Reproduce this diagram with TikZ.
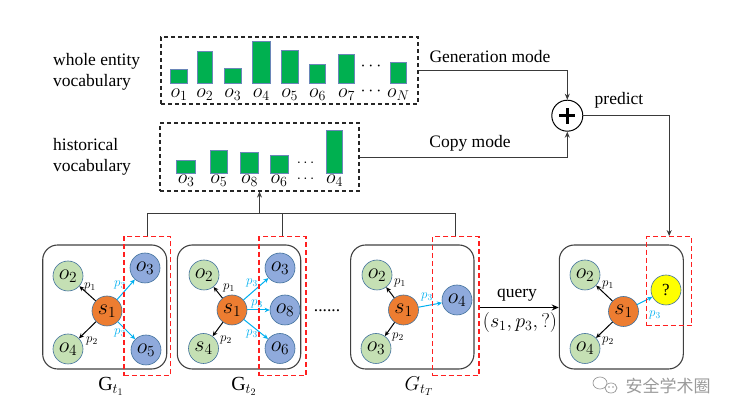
\RequirePackage{fix-cm}
\documentclass[tikz,border=0pt]{standalone}
\usepackage{fontspec}
\setmainfont{Liberation Serif}
\newfontfamily\cjkfont{Noto Sans CJK SC}
\usetikzlibrary{arrows.meta}

\definecolor{barfill}{HTML}{00B050}
\definecolor{baredge}{HTML}{6A86B8}
\definecolor{leaf}{HTML}{C5E0B4}
\definecolor{tailc}{HTML}{8FAADC}
\definecolor{subj}{HTML}{ED7D31}
\definecolor{unk}{HTML}{FFFF00}
\definecolor{ring}{HTML}{41719C}
\definecolor{rel}{HTML}{00B0F0}
\definecolor{framec}{HTML}{404040}
\definecolor{wire}{HTML}{3A3A3A}
\definecolor{redbox}{HTML}{FF2020}
\definecolor{wmark}{HTML}{9A9A9A}

\tikzset{
  txt/.style={font=\fontsize{17.5}{21}\selectfont, inner sep=0pt},
  mlbl/.style={font=\fontsize{20}{23}\selectfont, inner sep=0pt},
  dotrow/.style={font=\fontsize{18}{20}\selectfont, inner sep=0pt, text height=3pt, text depth=0pt},
  smalldots/.style={font=\fontsize{15}{16}\selectfont, inner sep=0pt, text height=3pt, text depth=0pt},
  elbl/.style={font=\fontsize{13}{15}\selectfont, inner sep=0pt},
  bar/.style={fill=barfill, draw=baredge, line width=0.8pt},
  vocab/.style={draw=black!85, dashed, dash pattern=on 4pt off 3pt, line width=1.2pt, inner sep=0pt},
  graphbox/.style={draw=framec, line width=1.1pt, rounded corners=15pt, inner sep=0pt},
  sel/.style={draw=redbox, dash pattern=on 5pt off 3pt, line width=1.2pt, inner sep=0pt},
  ent/.style={circle, minimum size=30pt, inner sep=0pt, draw=ring, line width=0.6pt, font=\fontsize{22}{24}\selectfont},
  obj/.style={ent, fill=leaf},
  hit/.style={ent, fill=tailc},
  head/.style={ent, fill=subj},
  ask/.style={ent, fill=unk, font=\fontsize{17}{20}\selectfont},
  blk/.style={-{Stealth[length=5pt,width=4.5pt]}, line width=1pt, black},
  cyn/.style={-{Stealth[length=5pt,width=4.5pt]}, line width=1pt, rel},
  wireline/.style={draw=wire, line width=0.9pt},
  wirearrow/.style={wireline, -{Stealth[length=6pt,width=5pt]}},
}

\begin{document}
\begin{tikzpicture}[x=1pt,y=-1pt]
\useasboundingbox (0,0) rectangle (737,419);

% ---------- vocabulary panels ----------
\node[txt, anchor=west, align=left] (wlab) at (53,72) {whole entity\\vocabulary};
\node[txt, anchor=west, align=left] (hlab) at (53,157) {historical\\vocabulary};

\node[vocab, minimum width=257pt, minimum height=67pt] (whole) at (289.5,70.5) {};
\node[vocab, minimum width=199pt, minimum height=68pt] (hist) at (259.5,157) {};

% bars of the whole entity vocabulary
\foreach \xa/\xb/\top/\name in {170.7/187.3/69.3/1, 197.3/212.3/51.3/2, 224.3/241.3/68.7/3,
  252.3/270.3/41.3/4, 281/298.3/50/5, 309.3/325.7/64.7/6, 338.3/354.7/54.7/7, 390/406.7/62/N}{
  \draw[bar] (\xa,83) rectangle (\xb,\top);
  \node[mlbl] at ({(\xa+\xb)/2},95) {$o_{\name}$};
}
\node[dotrow] at (371,69) {$\cdots$};
\node[dotrow] at (371,94) {$\cdots$};

% bars of the historical vocabulary
\foreach \xa/\xb/\top/\name in {176.7/195.7/160.7/3, 210/227.7/150.3/5, 240.3/258.7/152/8,
  270/288/155.3/6, 326.3/342.7/130.7/4}{
  \draw[bar] (\xa,173.3) rectangle (\xb,\top);
  \node[mlbl] at ({(\xa+\xb)/2},181) {$o_{\name}$};
}
\node[smalldots] (hdotsa) at (305.5,165.5) {$\cdots$};
\node[smalldots] (hdotsb) at (305.5,181.5) {$\cdots$};

% ---------- aggregation ----------
\node[circle, draw=black, line width=1pt, minimum size=31pt, inner sep=0pt] (plus) at (567.3,115.7) {};
\draw[line width=2.6pt] ([xshift=-8pt]plus.center) -- ([xshift=8pt]plus.center);
\draw[line width=2.6pt] ([yshift=-8pt]plus.center) -- ([yshift=8pt]plus.center);

\draw[wirearrow] (whole.east) -| (plus.north);
\draw[wirearrow] (hist.east) -| (plus.south);
\node[txt] (gen) at (490,57) {Generation mode};
\node[txt] (copy) at (470,143) {Copy mode};
\node[txt] (pred) at (619,100) {predict};

% ---------- snapshot graphs ----------
\node[graphbox, minimum width=124pt, minimum height=124pt] (g1) at (104.7,307) {};
\node[graphbox, minimum width=123.4pt, minimum height=124pt] (g2) at (239,307) {};
\node[graphbox, minimum width=123.3pt, minimum height=124pt] (gT) at (412.3,307) {};
\node[graphbox, minimum width=124pt, minimum height=124pt] (gq) at (621.3,307) {};

% graph at t1
\node[obj]  (g1o2) at (68,276)  {$o_2$};
\node[obj]  (g1o4) at (68,349)  {$o_4$};
\node[head] (g1s)  at (107,311) {$s_1$};
\node[hit]  (g1o3) at (145,268) {$o_3$};
\node[hit]  (g1o5) at (146,350) {$o_5$};
\draw[blk] (g1s) -- (g1o2);
\draw[blk] (g1s) -- (g1o4);
\draw[cyn] (g1s) -- (g1o3);
\draw[cyn] (g1s) -- (g1o5);
\node[elbl] at (90,287) {$p_1$};
\node[elbl] at (92,341) {$p_2$};
\node[elbl, text=rel] at (120,285) {$p_3$};
\node[elbl, text=rel] at (120,333) {$p_3$};

% graph at t2
\node[obj]  (g2o2) at (204,275)   {$o_2$};
\node[obj]  (g2s4) at (203.5,348.5) {$s_4$};
\node[head] (g2s)  at (232,310)   {$s_1$};
\node[hit]  (g2o3) at (280,268)   {$o_3$};
\node[hit]  (g2o8) at (285,310)   {$o_8$};
\node[hit]  (g2o6) at (280,348.5) {$o_6$};
\draw[blk] (g2s) -- (g2o2);
\draw[blk] (g2s) -- (g2s4);
\draw[cyn] (g2s) -- (g2o3);
\draw[cyn] (g2s) -- (g2o8);
\draw[cyn] (g2s) -- (g2o6);
\node[elbl] at (229,288) {$p_1$};
\node[elbl] at (226,340) {$p_2$};
\node[elbl, text=rel] at (252,283) {$p_3$};
\node[elbl, text=rel] at (257,304) {$p_3$};
\node[elbl, text=rel] at (252,334) {$p_3$};

% graph at tT
\node[obj]  (gTo2) at (377,275)   {$o_2$};
\node[obj]  (gTo3) at (376,348.5) {$o_3$};
\node[head] (gTs)  at (403.5,310) {$s_1$};
\node[hit]  (gTo4) at (457,300)   {$o_4$};
\draw[blk] (gTs) -- (gTo2);
\draw[blk] (gTs) -- (gTo3);
\draw[cyn] (gTs) -- (gTo4);
\node[elbl] at (400,283) {$p_1$};
\node[elbl] at (398,337) {$p_2$};
\node[elbl, text=rel] at (427,297) {$p_3$};

% query graph
\node[obj]  (gqo2) at (585,275)     {$o_2$};
\node[obj]  (gqo4) at (585,348.5)   {$o_4$};
\node[head] (gqs)  at (623.5,311.5) {$s_1$};
\node[ask]  (gqx)  at (666,290)     {?};
\draw[blk] (gqs) -- (gqo2);
\draw[blk] (gqs) -- (gqo4);
\draw[cyn] (gqs) -- (gqx);
\node[elbl] at (608,285) {$p_1$};
\node[elbl] at (608,341) {$p_2$};
\node[elbl, text=rel] at (655,315) {$p_3$};

% selected object columns
\node[sel, minimum width=46.7pt, minimum height=139pt] (r1) at (147.3,306.2) {};
\node[sel, minimum width=47pt, minimum height=139pt]   (r2) at (282.5,306.2) {};
\node[sel, minimum width=46.3pt, minimum height=139pt] (rT) at (455.8,306.2) {};
\node[sel, minimum width=45pt, minimum height=89pt]    (rq) at (669.2,281.2) {};

% gathering the selected objects into the historical vocabulary
\coordinate (jn) at (hist.south |- 0,213);
\draw[wireline] (r1.north) -- (r1.north |- jn) -- (rT.north |- jn) -- (rT.north);
\draw[wireline] (r2.north) -- (r2.north |- jn);
\draw[wirearrow] (jn) -- (hist.south);

% prediction into the query slot
\draw[wirearrow] (plus.east) -| (rq.north);

% query arrow
\coordinate (qy) at (0,307.5);
\draw[-{Stealth[length=7pt,width=6pt]}, line width=1.1pt, black] (rT.east |- qy) -- (gq.west |- qy);
\node[txt] (qlab) at (517,295) {query};
\node[mlbl] (qtrip) at (520,323) {$(s_1, p_3, ?)$};

% snapshot labels
\node[txt] at (327,311) {......};
\node[mlbl] (l1) at (111,386) {$\mathrm{G}_{t_1}$};
\node[mlbl] (l2) at (244,386) {$\mathrm{G}_{t_2}$};
\node[mlbl] (lT) at (419,386) {$G_{t_T}$};

% watermark
\begin{scope}[wmark, line width=0.7pt]
  \draw (600,383) ellipse (7pt and 6pt);
  \draw[fill=white] (611,388) ellipse (6pt and 5pt);
  \fill (609,387) circle (0.9pt) (613,387) circle (0.9pt);
  \node[text=wmark, font=\cjkfont\fontsize{17}{20}\selectfont, inner sep=0pt] (wm) at (668,385.5) {安全学术圈};
\end{scope}
\end{tikzpicture}
\end{document}
